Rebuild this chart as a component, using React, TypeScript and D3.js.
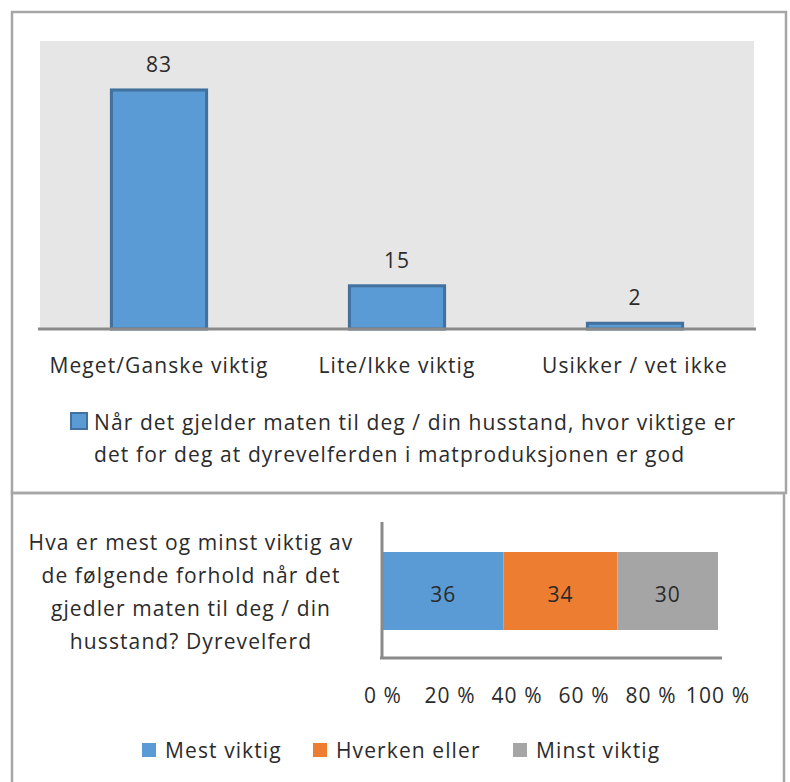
import React from "react";
import * as d3 from "d3";

const categories = ["Meget/Ganske viktig", "Lite/Ikke viktig", "Usikker / vet ikke"];
const values = [83, 15, 2];
const seriesLines = [
  "Når det gjelder maten til deg / din husstand, hvor viktige er",
  "det for deg at dyrevelferden i matproduksjonen er god",
];
const stackKeys = ["Mest viktig", "Hverken eller", "Minst viktig"];
const stackValues = [36, 34, 30];
const stackColors = ["#5b9bd5", "#ed7d31", "#a5a5a5"];
const xTicks = [0, 20, 40, 60, 80, 100];
const questionLines = [
  "Hva er mest og minst viktig av",
  "de følgende forhold når det",
  "gjedler maten til deg / din",
  "husstand? Dyrevelferd",
];

const FONT = "'Open Sans', sans-serif";
const TEXT = "#2b2b2b";
const BORDER = "#a6a6a6";
const AXIS = "#8a8a8a";
const LS = 1.1;

export default function App() {
  // top chart scales
  const x = d3.scaleBand<string>().domain(categories).range([40, 754]);
  const y = d3.scaleLinear().domain([0, 100]).range([329, 41]);
  const bw = x.bandwidth() * 0.4;

  // bottom chart
  const xs = d3.scaleLinear().domain([0, 100]).range([383, 718]);
  const stack = d3.cumsum(stackValues);
  const starts = stackValues.map((v, i) => stack[i] - v);

  const legendX = [142, 313, 513];

  return (
    <svg
      width={790}
      height={782}
      style={{ position: "absolute", left: 0, top: 0, background: "#fff" }}
      fontFamily={FONT}
      letterSpacing={LS}
    >
      <rect x={0} y={0} width={790} height={782} fill="#fff" />
      {/* panel borders */}
      <rect x={12} y={12} width={774} height={481} fill="none" stroke={BORDER} strokeWidth={2.5} />
      <rect x={12} y={493} width={772} height={300} fill="none" stroke={BORDER} strokeWidth={2.5} />

      {/* top plot area */}
      <rect x={40} y={41} width={714} height={288} fill="#e6e6e6" />
      {categories.map((c, i) => (
        <g key={c}>
          <rect
            x={(x(c) as number) + (x.bandwidth() - bw) / 2}
            y={y(values[i])}
            width={bw}
            height={y(0) - y(values[i])}
            fill="#5b9bd5"
            stroke="#41719c"
            strokeWidth={3}
          />
          <text
            x={(x(c) as number) + x.bandwidth() / 2}
            y={y(values[i]) - 18}
            textAnchor="middle"
            fontSize={21}
            fill={TEXT}
          >
            {values[i]}
          </text>
          <text
            x={(x(c) as number) + x.bandwidth() / 2}
            y={373}
            textAnchor="middle"
            fontSize={21}
            fill={TEXT}
          >
            {c}
          </text>
        </g>
      ))}
      <line x1={38} x2={756} y1={y(0)} y2={y(0)} stroke={AXIS} strokeWidth={3} />

      {/* top legend */}
      <rect x={71} y={413} width={16} height={16} fill="#5b9bd5" stroke="#41719c" strokeWidth={2} />
      {seriesLines.map((l, i) => (
        <text key={i} x={94} y={430 + i * 32} fontSize={21} fill={TEXT}>
          {l}
        </text>
      ))}

      {/* bottom question */}
      {questionLines.map((l, i) => (
        <text key={i} x={191} y={550 + i * 33} textAnchor="middle" fontSize={21} fill={TEXT}>
          {l}
        </text>
      ))}

      {/* stacked bar */}
      {stackValues.map((v, i) => (
        <g key={stackKeys[i]}>
          <rect
            x={xs(starts[i])}
            y={552}
            width={xs(starts[i] + v) - xs(starts[i])}
            height={78}
            fill={stackColors[i]}
          />
          <text
            x={(xs(starts[i]) + xs(starts[i] + v)) / 2}
            y={602}
            textAnchor="middle"
            fontSize={21}
            fill={TEXT}
          >
            {v}
          </text>
        </g>
      ))}
      <line x1={382} x2={382} y1={522} y2={658} stroke={AXIS} strokeWidth={3} />
      <line x1={380} x2={722} y1={658} y2={658} stroke={AXIS} strokeWidth={3} />
      {xTicks.map((t) => (
        <text key={t} x={xs(t)} y={703} textAnchor="middle" fontSize={21} fill={TEXT}>
          {t} %
        </text>
      ))}

      {/* bottom legend */}
      {stackKeys.map((k, i) => (
        <g key={k}>
          <rect x={legendX[i]} y={743} width={14} height={14} fill={stackColors[i]} />
          <text x={legendX[i] + 23} y={758} fontSize={21} fill={TEXT}>
            {k}
          </text>
        </g>
      ))}
    </svg>
  );
}
